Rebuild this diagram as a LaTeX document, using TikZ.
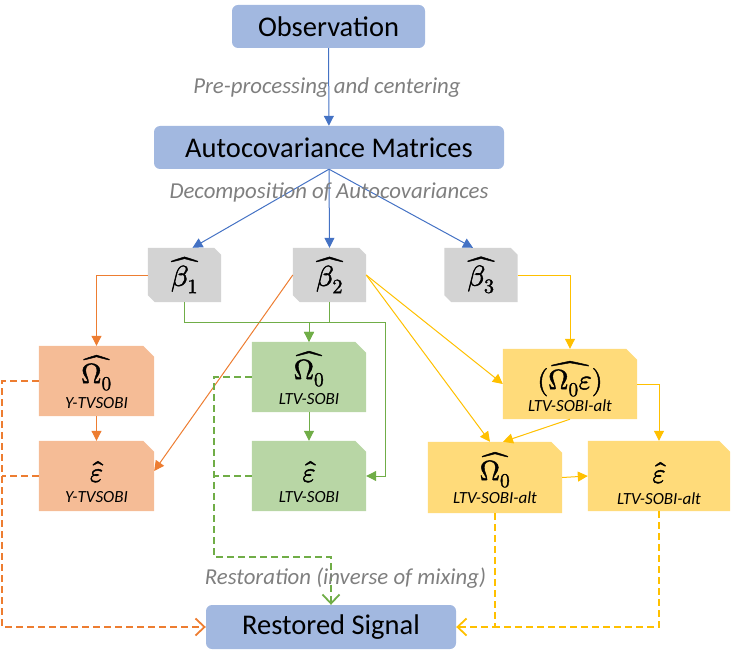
\documentclass[tikz,border=0pt]{standalone}
\usepackage{fontspec}
\usepackage{unicode-math}
\setmainfont{Carlito}
\setmathfont{Latin Modern Math}[FakeBold=1.6]
\usetikzlibrary{arrows.meta,backgrounds}
\definecolor{boxblue}{RGB}{162,184,224}
\definecolor{boxgray}{RGB}{211,211,211}
\definecolor{boxorange}{RGB}{245,188,150}
\definecolor{boxgreen}{RGB}{184,214,165}
\definecolor{boxyellow}{RGB}{255,219,122}
\definecolor{lineblue}{RGB}{68,114,196}
\definecolor{lineorange}{RGB}{237,125,49}
\definecolor{linegreen}{RGB}{112,173,71}
\definecolor{lineyellow}{RGB}{255,192,0}
\definecolor{textgray}{RGB}{127,127,127}
\newcommand\snipone[2]{\fill[#2] (#1.south west) -- (#1.north west) -- ([xshift=-11pt]#1.north east) -- ([yshift=-11pt]#1.north east) -- (#1.south east) -- cycle;}
\newcommand\snipdiag[2]{\fill[#2] ([yshift=7pt]#1.south west) -- (#1.north west) -- ([xshift=-7pt]#1.north east) -- ([yshift=-7pt]#1.north east) -- (#1.south east) -- ([xshift=7pt]#1.south west) -- cycle;}
\begin{document}
\begin{tikzpicture}[x=1pt,y=-1pt,
  titlebox/.style={rounded corners=6pt, fill=boxblue, inner sep=0pt, font=\fontsize{28.5}{32}\selectfont},
  shapebox/.style={rectangle, inner sep=0pt},
  betatxt/.style={font=\fontsize{29}{31}\selectfont},
  mtxt/.style={inner sep=0pt, font=\fontsize{28}{30}\selectfont},
  subtxt/.style={inner sep=0pt, font=\fontsize{17}{19}\selectfont\itshape},
  steplabel/.style={inner sep=0pt, text=textgray, font=\fontsize{22.8}{25}\selectfont\itshape},
  sarrow/.style={line width=1pt, -{Triangle[length=10pt,width=10pt]}},
  darrow/.style={line width=1.9pt, dash pattern=on 7pt off 4pt, -{Straight Barb[length=9pt,width=17pt,line width=1.8pt]}},
  dline/.style={line width=1.9pt, dash pattern=on 7pt off 4pt}
]
\useasboundingbox (0,0) rectangle (731,663);
% title boxes
\node[titlebox, minimum width=193pt, minimum height=43pt] (obs) at (328.5,26.5) {Observation};
\node[titlebox, minimum width=350pt, minimum height=43pt] (acov) at (329,147.5) {Autocovariance Matrices};
\node[titlebox, minimum width=250pt, minimum height=44pt] (rs) at (331,627) {Restored Signal};
% gray boxes
\node[shapebox, betatxt, minimum width=73pt, minimum height=54pt] (b1) at (184.5,275) {$\widehat{\beta_1}$};
\node[shapebox, betatxt, minimum width=73pt, minimum height=54pt] (b2) at (329.5,275) {$\widehat{\beta_2}$};
\node[shapebox, betatxt, minimum width=73pt, minimum height=54pt] (b3) at (481,275) {$\widehat{\beta_3}$};
% colored boxes
\node[shapebox, minimum width=115pt, minimum height=70pt] (oO) at (96.5,381) {};
\node[shapebox, minimum width=115pt, minimum height=70pt] (oE) at (96.5,476) {};
\node[shapebox, minimum width=114pt, minimum height=70pt] (gO) at (309,377) {};
\node[shapebox, minimum width=114pt, minimum height=70pt] (gE) at (309,476) {};
\node[shapebox, minimum width=134pt, minimum height=70pt] (yOE) at (570,384) {};
\node[shapebox, minimum width=134pt, minimum height=71pt] (yO) at (495,477.5) {};
\node[shapebox, minimum width=142pt, minimum height=70pt] (yE) at (659,476) {};
% texts in colored boxes
\node[mtxt] (oOm) at ([yshift=-27pt]oO.north) {$\widehat{\Omega_0}$};
\node[subtxt] (oOs) at ([yshift=-57pt]oO.north) {Y-TVSOBI};
\node[mtxt] (oEm) at ([yshift=-31pt]oE.north) {$\hat{\varepsilon}$};
\node[subtxt] (oEs) at ([yshift=-56pt]oE.north) {Y-TVSOBI};
\node[mtxt] (gOm) at ([yshift=-27pt]gO.north) {$\widehat{\Omega_0}$};
\node[subtxt] (gOs) at ([yshift=-57pt]gO.north) {LTV-SOBI};
\node[mtxt] (gEm) at ([yshift=-31pt]gE.north) {$\hat{\varepsilon}$};
\node[subtxt] (gEs) at ([yshift=-56pt]gE.north) {LTV-SOBI};
\node[mtxt] (yOEm) at ([yshift=-30pt]yOE.north) {$(\widehat{\Omega_0\varepsilon})$};
\node[subtxt] (yOEs) at ([yshift=-57pt]yOE.north) {LTV-SOBI-alt};
\node[mtxt] (yOm) at ([yshift=-28pt]yO.north) {$\widehat{\Omega_0}$};
\node[subtxt] (yOs) at ([yshift=-56pt]yO.north) {LTV-SOBI-alt};
\node[mtxt] (yEm) at ([yshift=-32pt]yE.north) {$\hat{\varepsilon}$};
\node[subtxt] (yEs) at ([yshift=-58pt]yE.north) {LTV-SOBI-alt};
% fills
\begin{scope}[on background layer]
\snipdiag{b1}{boxgray}
\snipdiag{b2}{boxgray}
\snipdiag{b3}{boxgray}
\snipone{oO}{boxorange}
\snipone{oE}{boxorange}
\snipone{gO}{boxgreen}
\snipone{gE}{boxgreen}
\snipone{yOE}{boxyellow}
\snipone{yO}{boxyellow}
\snipone{yE}{boxyellow}
\end{scope}
% blue connectors
\draw[sarrow, lineblue] (obs) -- (acov);
\draw[sarrow, lineblue] (acov.south) -- ([xshift=8pt]b1.north);
\draw[sarrow, lineblue] (acov.south) -- (b2.north);
\draw[sarrow, lineblue] (acov.south) -- ([xshift=-8pt]b3.north);
% orange
\draw[sarrow, lineorange] (b1.west) -| (oO.north);
\draw[sarrow, lineorange] (oO) -- (oE);
\draw[sarrow, lineorange] (b2.west) -- ([yshift=5pt]oE.east);
% green
\draw[sarrow, linegreen] (b1.south) -- ++(0,20) -| (gO.north);
\draw[sarrow, linegreen] (b2.south) -- ++(0,20) -| (gO.north);
\draw[sarrow, linegreen] (b2.south) -- ++(0,20) -| ([xshift=19pt]gE.east) -- (gE.east);
\draw[sarrow, linegreen] (gO) -- (gE);
% yellow
\draw[sarrow, lineyellow] (b2.east) -- (yOE.west);
\draw[sarrow, lineyellow] (b2.east) -- ([xshift=-5pt]yO.north);
\draw[sarrow, lineyellow] (b3.east) -| (yOE.north);
\draw[sarrow, lineyellow] (yOE.south) -- ([xshift=8pt]yO.north);
\draw[sarrow, lineyellow] (yOE.east) -| (yE.north);
\draw[sarrow, lineyellow] (yO.east) -- (yE.west);
% dashed restoration paths
\coordinate (ocorner) at (2,627);
\coordinate (gbend) at (214,557);
\draw[darrow, lineorange] (oO.west) -| (ocorner) -- (rs.west);
\draw[dline, lineorange] (oE.west) -- (oE.west -| ocorner);
\draw[darrow, linegreen] (gO.west) -| (gbend) -| (rs.north);
\draw[dline, linegreen] (gE.west) -- (gE.west -| gbend);
\draw[darrow, lineyellow] (yO.south) |- (rs.east);
\draw[dline, lineyellow] (yE.south) |- (yO.south |- rs.east);
% step labels
\node[steplabel] (l1) at (327,88) {Pre-processing and centering};
\node[steplabel] (l2) at (329,192) {Decomposition of Autocovariances};
\node[steplabel] (l3) at (345.5,578) {Restoration (inverse of mixing)};
\end{tikzpicture}
\end{document}
